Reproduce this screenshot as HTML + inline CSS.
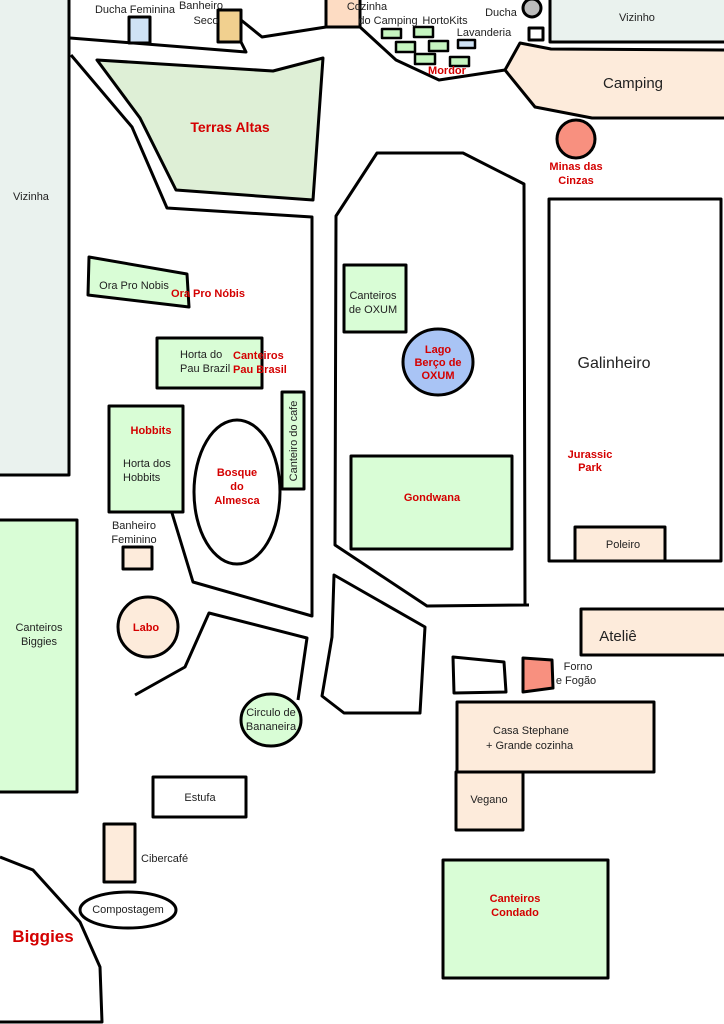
<!DOCTYPE html>
<html><head><meta charset="utf-8"><style>
html,body{margin:0;padding:0;background:#fff;}
svg{display:block;}
text{font-family:"Liberation Sans","DejaVu Sans",sans-serif;font-size:11px;fill:#222;}
.r{fill:#d40000;font-weight:bold;}
</style></head><body>
<svg width="724" height="1024" viewBox="0 0 724 1024" xmlns="http://www.w3.org/2000/svg">
<g stroke="#000" stroke-width="3" stroke-linejoin="round" fill="none">
<!-- Vizinha -->
<rect x="-3" y="-3" width="72" height="478" fill="#eaf2ee"/>
<!-- Vizinho -->
<rect x="550" y="-3" width="177" height="45" fill="#eaf2ee"/>
<!-- roads top -->
<polyline points="70,38 246,52 241,42"/>
<polyline points="241,20 262,37 326,27"/>
<polyline points="360,27 396,60 439,80 505,70"/>
<!-- Camping -->
<polygon points="505,70 520,43 551,49 727,50 727,118 592,118 535,107" fill="#fdebdb"/>
<!-- Cozinha -->
<rect x="326" y="-3" width="34" height="30" fill="#fddcc3"/>
<!-- Ducha Fem / Banheiro seco -->
<rect x="129" y="17" width="21" height="26" fill="#cfe2f5"/>
<rect x="218" y="10" width="23" height="32" fill="#f1d08f"/>
<!-- Ducha -->
<circle cx="532" cy="8" r="9" fill="#bcbcbc"/>
<rect x="529" y="28" width="14" height="12" fill="#fff"/>
<!-- hortokits -->
<g stroke-width="2.5" fill="#c6f5c0">
<rect x="382" y="29" width="19" height="9"/>
<rect x="414" y="27" width="19" height="10"/>
<rect x="396" y="42" width="19" height="10"/>
<rect x="429" y="41" width="19" height="10"/>
<rect x="415" y="54" width="20" height="10"/>
<rect x="450" y="57" width="19" height="9"/>
<rect x="458" y="40" width="17" height="8" fill="#cfe2f5"/>
</g>
<!-- Terras Altas -->
<polygon points="97,60 273,71 323,58 313,200 176,190 140,118" fill="#deefd6"/>
<!-- left roads -->
<polyline points="71,55 132,127 167,208 312,217 312,616 193,582 172,513"/>
<polyline points="135,695 185,667 209,613 307,638 298,700"/>
<!-- OXUM polygon -->
<polygon points="377,153 463,153 524,184 525,605 427,606 335,545 336,216" fill="#fff"/>
<line x1="524" y1="605" x2="529" y2="605"/>
<polygon points="334,575 425,627 420,713 344,713 322,696 332,637" fill="#fff"/>
<!-- Minas -->
<circle cx="576" cy="139" r="19" fill="#f8907f"/>
<!-- Galinheiro -->
<rect x="549" y="199" width="172" height="362" fill="#fff"/>
<rect x="575" y="527" width="90" height="34" fill="#fdebdb"/>
<!-- OXUM contents -->
<rect x="344" y="265" width="62" height="67" fill="#d9fdd6"/>
<ellipse cx="438" cy="362" rx="35" ry="33" fill="#a9c4f5"/>
<rect x="351" y="456" width="161" height="93" fill="#d9fdd6"/>
<!-- Ora pro nobis -->
<polygon points="89,257 187,274 189,307 88,295" fill="#d9fdd6"/>
<rect x="157" y="338" width="105" height="50" fill="#d9fdd6"/>
<rect x="282" y="392" width="22" height="97" fill="#d9fdd6"/>
<rect x="109" y="406" width="74" height="106" fill="#d9fdd6"/>
<ellipse cx="237" cy="492" rx="43" ry="72" fill="#fff"/>
<rect x="123" y="547" width="29" height="22" fill="#fdebdb"/>
<circle cx="148" cy="627" r="30" fill="#fdebdb"/>
<!-- Canteiros Biggies -->
<rect x="-3" y="520" width="80" height="272" fill="#d9fdd6"/>
<!-- Bananeira -->
<ellipse cx="271" cy="720" rx="30" ry="26" fill="#d9fdd6"/>
<rect x="153" y="777" width="93" height="40" fill="#fff"/>
<rect x="104" y="824" width="31" height="58" fill="#fdebdb"/>
<ellipse cx="128" cy="910" rx="48" ry="18" fill="#fff"/>
<polyline points="0,857 33,870 80,922 100,967 102,1022 -3,1022"/>
<!-- right lower -->
<rect x="581" y="609" width="146" height="46" fill="#fdebdb"/>
<polygon points="453,657 504,662 506,692 454,693" fill="#fff"/>
<polygon points="523,658 552,660 553,688 523,692" fill="#f8907f"/>
<rect x="457" y="702" width="197" height="70" fill="#fdebdb"/>
<rect x="456" y="772" width="67" height="58" fill="#fdebdb"/>
<rect x="443" y="860" width="165" height="118" fill="#d9fdd6"/>
</g>
<!-- text -->
<g>
<text x="135" y="13" text-anchor="middle">Ducha Feminina</text>
<text x="201" y="9" text-anchor="middle">Banheiro</text>
<text x="206" y="24" text-anchor="middle">Seco</text>
<text x="367" y="10" text-anchor="middle">Cozinha</text>
<text x="388" y="24" text-anchor="middle">do Camping</text>
<text x="445" y="24" text-anchor="middle">HortoKits</text>
<text x="484" y="36" text-anchor="middle">Lavanderia</text>
<text x="501" y="16" text-anchor="middle">Ducha</text>
<text x="447" y="74" text-anchor="middle" class="r">Mordor</text>
<text x="637" y="21" text-anchor="middle">Vizinho</text>
<text x="633" y="88" text-anchor="middle" style="font-size:15px">Camping</text>
<text x="230" y="132" text-anchor="middle" class="r" style="font-size:14px">Terras Altas</text>
<text x="576" y="170" text-anchor="middle" class="r">Minas das</text>
<text x="576" y="184" text-anchor="middle" class="r">Cinzas</text>
<text x="31" y="200" text-anchor="middle">Vizinha</text>
<text x="134" y="289" text-anchor="middle">Ora Pro Nobis</text>
<text x="208" y="297" text-anchor="middle" class="r">Ora Pro Nóbis</text>
<text x="180" y="358">Horta do</text>
<text x="180" y="372">Pau Brazil</text>
<text x="233" y="359" class="r">Canteiros</text>
<text x="233" y="373" class="r">Pau Brasil</text>
<text transform="translate(297,441) rotate(-90)" text-anchor="middle">Canteiro do cafe</text>
<text x="151" y="434" text-anchor="middle" class="r">Hobbits</text>
<text x="123" y="467">Horta dos</text>
<text x="123" y="481">Hobbits</text>
<text x="237" y="476" text-anchor="middle" class="r">Bosque</text>
<text x="237" y="490" text-anchor="middle" class="r">do</text>
<text x="237" y="504" text-anchor="middle" class="r">Almesca</text>
<text x="134" y="529" text-anchor="middle">Banheiro</text>
<text x="134" y="543" text-anchor="middle">Feminino</text>
<text x="39" y="631" text-anchor="middle">Canteiros</text>
<text x="39" y="645" text-anchor="middle">Biggies</text>
<text x="146" y="631" text-anchor="middle" class="r">Labo</text>
<text x="373" y="299" text-anchor="middle">Canteiros</text>
<text x="373" y="313" text-anchor="middle">de OXUM</text>
<text x="438" y="353" text-anchor="middle" class="r">Lago</text>
<text x="438" y="366" text-anchor="middle" class="r">Berço de</text>
<text x="438" y="379" text-anchor="middle" class="r">OXUM</text>
<text x="614" y="368" text-anchor="middle" style="font-size:16px">Galinheiro</text>
<text x="590" y="458" text-anchor="middle" class="r">Jurassic</text>
<text x="590" y="471" text-anchor="middle" class="r">Park</text>
<text x="432" y="501" text-anchor="middle" class="r">Gondwana</text>
<text x="623" y="548" text-anchor="middle">Poleiro</text>
<text x="618" y="641" text-anchor="middle" style="font-size:15px">Ateliê</text>
<text x="578" y="670" text-anchor="middle">Forno</text>
<text x="576" y="684" text-anchor="middle">e Fogão</text>
<text x="493" y="734">Casa Stephane</text>
<text x="486" y="749">+ Grande cozinha</text>
<text x="489" y="803" text-anchor="middle">Vegano</text>
<text x="515" y="902" text-anchor="middle" class="r">Canteiros</text>
<text x="515" y="916" text-anchor="middle" class="r">Condado</text>
<text x="271" y="716" text-anchor="middle">Circulo de</text>
<text x="271" y="730" text-anchor="middle">Bananeira</text>
<text x="200" y="801" text-anchor="middle">Estufa</text>
<text x="141" y="862">Cibercafé</text>
<text x="128" y="913" text-anchor="middle">Compostagem</text>
<text x="43" y="942" text-anchor="middle" class="r" style="font-size:17px">Biggies</text>
</g>
</svg>
</body></html>
